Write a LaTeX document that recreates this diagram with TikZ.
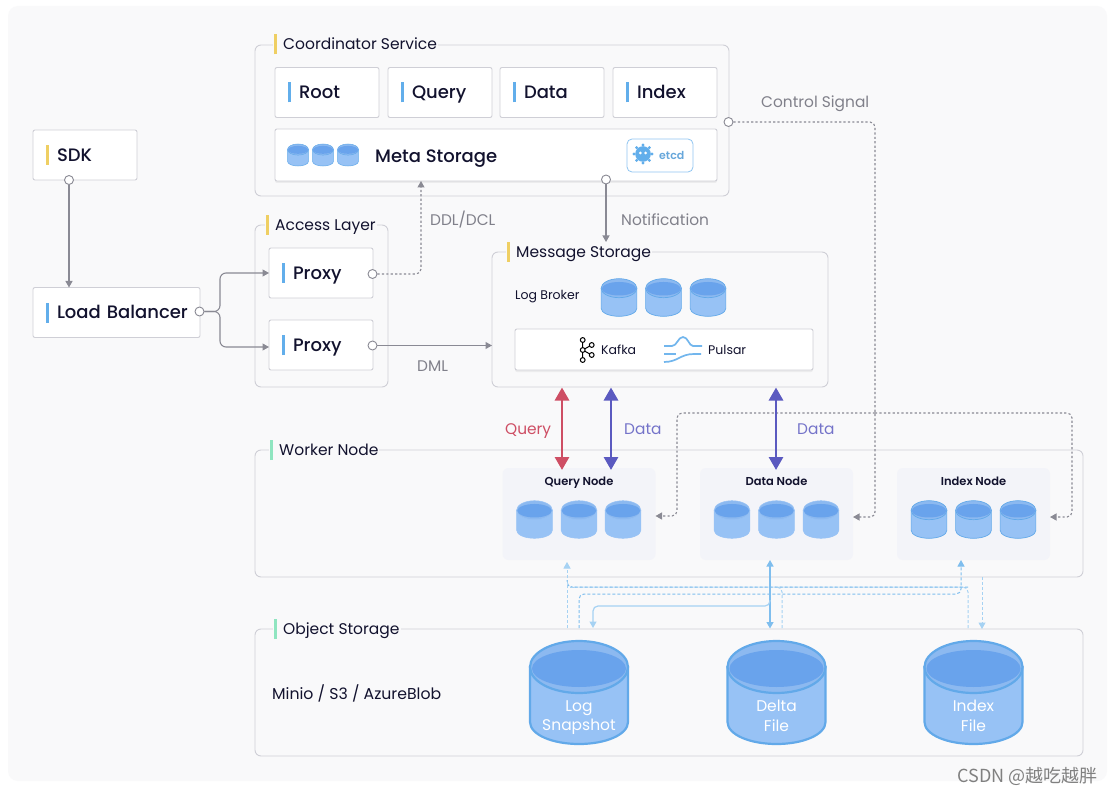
\documentclass[tikz,border=0pt]{standalone}
\usepackage{fontspec}
\usepackage{xcolor}
\usetikzlibrary{arrows.meta,shadows}
\setmainfont{Poppins}[BoldFont=Poppins SemiBold]
\newfontfamily\medfont{Poppins Medium}
\newfontfamily\cjkfont{Noto Sans CJK SC}
\definecolor{pagebg}{HTML}{F9F9FA}
\definecolor{boxline}{HTML}{CFCFD6}
\definecolor{ink}{HTML}{12122E}
\definecolor{greyink}{HTML}{80808A}
\definecolor{linkgrey}{HTML}{8A8A94}
\definecolor{tagyellow}{HTML}{EFCF63}
\definecolor{tagblue}{HTML}{62AEEB}
\definecolor{taggreen}{HTML}{8FE5C0}
\definecolor{querycol}{HTML}{CE4E64}
\definecolor{datacol}{HTML}{5B5AC0}
\definecolor{nodefill}{HTML}{F3F4F9}
\definecolor{dbline}{HTML}{62A9E9}
\definecolor{dbbody}{HTML}{97C2F5}
\definecolor{dbband}{HTML}{8CB9F0}
\definecolor{dbtop}{HTML}{69A3EC}
\definecolor{lightlink}{HTML}{A6D2F3}
\definecolor{midlink}{HTML}{7FBEEE}
\newcommand{\tagbar}[1]{\textcolor{#1}{\rule[-3.5pt]{3pt}{20pt}}\hspace{8pt}}
\newcommand{\titlebar}[1]{\textcolor{#1}{\rule[-4.5pt]{3pt}{20pt}}\hspace{6pt}}
\newcommand{\fsz}[1]{\fontsize{#1pt}{#1pt}\selectfont}
\tikzset{
  dbcyl/.pic={
    \path[fill=dbbody,draw=#1] (-49,-25.5) -- (-49,29.5)
      .. controls (-49,42) and (-27,51.5) .. (0,51.5)
      .. controls (27,51.5) and (49,42) .. (49,29.5) -- (49,-25.5) -- cycle;
    \path[fill=dbband,draw=#1] (0,-25.5) ellipse [x radius=49,y radius=26];
    \path[fill=dbtop] (0,-24) ellipse [x radius=47,y radius=18.5];
  },
  kafkaicon/.pic={
    \draw[black,line width=1pt] (0,-10) -- (0,10) (0,0) -- (9,-5) (0,0) -- (9,5);
    \foreach \p in {(0,-10),(0,0),(0,10),(9,-5),(9,5)}
      \draw[black,fill=white,line width=1pt] \p circle (2.4);
  },
  pulsaricon/.pic={
    \draw[tagblue!90,line width=1.7pt] (0,0) -- (8,0) .. controls (13,0) and (14,-9) .. (19,-9)
      .. controls (24,-9) and (25,0) .. (29,0) -- (38,0);
    \draw[tagblue!90,line width=1.7pt] (0,8) -- (12,8);
    \draw[tagblue!90,line width=1.7pt] (0,16) .. controls (14,16) and (16,8) .. (30,8) -- (37,8);
  },
  etcdicon/.pic={
    \foreach \a in {0,45,...,315}
      \fill[tagblue] (\a:9) circle (1.6);
    \fill[tagblue] (0,0) circle (7.8);
    \fill[white] (-2.6,-1) circle (1.5) (2.6,-1) circle (1.5);
  }
}
\begin{document}
\begin{tikzpicture}[x=1pt,y=-1pt]
  \tikzstyle{groupn}=[draw=boxline,fill=pagebg,rounded corners=6pt,line width=.9pt,outer sep=0pt]
  \tikzstyle{boxn}=[draw=boxline,fill=white,rounded corners=2pt,line width=.9pt,outer sep=0pt,
    inner xsep=13pt,inner ysep=0pt,minimum height=50pt,align=left,text=ink,font=\fsz{18}\medfont,
    text height=16.5pt,text depth=3.5pt]
  \tikzstyle{shadown}=[drop shadow={opacity=.10,shadow xshift=0pt,shadow yshift=-2pt}]
  \tikzstyle{titlen}=[fill=pagebg,inner sep=1pt,anchor=west,text=ink,font=\fsz{15.5}]
  \tikzstyle{workern}=[fill=nodefill,rounded corners=6pt,minimum width=153pt,minimum height=92pt,outer sep=0pt]
  \tikzstyle{dotn}=[circle,draw=linkgrey,fill=white,line width=.9pt,inner sep=0pt,minimum size=9pt]
  \tikzstyle{textn}=[anchor=west,inner sep=0pt,text=ink]
  \tikzstyle{greyn}=[anchor=west,inner sep=0pt,text=greyink,font=\fsz{15.4}]
  \tikzstyle{link}=[draw=linkgrey,line width=1.1pt,-{Triangle[length=6.5pt,width=7pt]}]
  \tikzstyle{dotlink}=[link,dash pattern=on 2.2pt off 2.2pt,rounded corners=5pt]
  \tikzstyle{thick2}=[line width=2.8pt,{Triangle[length=13pt,width=14pt]}-{Triangle[length=13pt,width=14pt]}]
  \tikzstyle{lightn}=[draw=lightlink,line width=1pt,rounded corners=5pt,dash pattern=on 3pt off 2pt]
  \tikzstyle{lighttip}=[-{Triangle[length=6.5pt,width=7pt]}]
  \useasboundingbox (0,0) rectangle (1108,794);
  \fill[white] (0,0) rectangle (1108,794);
  \fill[pagebg,rounded corners=10pt] (8,6) rectangle (1107,781);

  % groups
  \node(coordg)[groupn,minimum width=474pt,minimum height=151pt] at (492,120.5){};
  \node(accessg)[groupn,minimum width=133pt,minimum height=162pt] at (321.5,306){};
  \node(msgg)[groupn,minimum width=336pt,minimum height=135pt] at (660,319.5){};
  \node(workerg)[groupn,minimum width=828pt,minimum height=127pt] at (669,513.5){};
  \node(objectg)[groupn,minimum width=828pt,minimum height=127pt] at (669,692.5){};
  \node(coordt)[titlen] at (273,44.5){\titlebar{tagyellow}Coordinator Service};
  \node(accesst)[titlen] at (265,225){\titlebar{tagyellow}Access Layer};
  \node(msgt)[titlen] at (506,252){\titlebar{tagyellow}Message Storage};
  \node(workert)[titlen] at (269,450){\titlebar{taggreen}Worker Node};
  \node(objectt)[titlen] at (273,629){\titlebar{taggreen}Object Storage};

  % boxes
  \node(sdk)[boxn,text width=78pt] at (85,155){\tagbar{tagyellow}SDK};
  \node(lb)[boxn,text width=141pt] at (116.5,312.5){\mbox{\tagbar{tagblue}Load Balancer}};
  \node(root)[boxn,text width=78pt] at (327,92.5){\tagbar{tagblue}Root};
  \node(query)[boxn,text width=78pt] at (440,92.5){\tagbar{tagblue}Query};
  \node(data)[boxn,text width=78pt] at (552,92.5){\tagbar{tagblue}Data};
  \node(index)[boxn,text width=78pt] at (665,92.5){\tagbar{tagblue}Index};
  \node(proxya)[boxn,text width=78pt] at (321,273){\tagbar{tagblue}Proxy};
  \node(proxyb)[boxn,text width=78pt] at (321,345){\tagbar{tagblue}Proxy};
  \node(meta)[boxn,shadown,minimum width=442pt,minimum height=52pt,inner xsep=0pt] at (496,155){};
  \node(kafkab)[boxn,shadown,minimum width=298pt,minimum height=41pt,inner xsep=0pt] at (664,349.5){};

  % meta storage
  \foreach \x in {298,323,348}
    \pic[scale=.214,line width=.5pt] at (\x,155){dbcyl=dbline};
  \node(metat)[textn,font=\fsz{18}\medfont] at (375,158.5){Meta Storage};
  \node(etcdb)[draw=tagblue!70,fill=white,rounded corners=5pt,line width=.8pt,minimum width=66pt,minimum height=33pt,outer sep=0pt] at (660,155.5){};
  \pic at (643,154){etcdicon};
  \node(etcdt)[textn,font=\fsz{11}\bfseries,text=tagblue!85!gray] at (659,155){etcd};

  % message storage
  \node(brokert)[textn,font=\fsz{12.5}] at (515,297){Log Broker};
  \foreach \x in {619,663.5,708}
    \pic[scale=.365,line width=.7pt] at (\x,297.5){dbcyl=dbline};
  \pic at (582.7,350){kafkaicon};
  \node(kafkat)[textn,font=\fsz{12.5}] at (601,350){Kafka};
  \pic at (664,346){pulsaricon};
  \node(pulsart)[textn,font=\fsz{12.5}] at (708,350){Pulsar};

  % worker nodes
  \node(qnode)[workern] at (579,514){};
  \node(dnode)[workern] at (776.5,514){};
  \node(inode)[workern] at (973.5,514){};
  \node(qnodet)[inner sep=0pt,text=ink,font=\fsz{11.5}\bfseries] at (579,483){Query Node};
  \node(dnodet)[inner sep=0pt,text=ink,font=\fsz{11.5}\bfseries] at (776.5,481){Data Node};
  \node(inodet)[inner sep=0pt,text=ink,font=\fsz{11.5}\bfseries] at (973.5,481){Index Node};
  \foreach \x in {534.5,579,623}
    \pic[scale=.365,line width=.5pt] at (\x,519.5){dbcyl=dbbody};
  \foreach \x in {732,776.5,821}
    \pic[scale=.365,line width=.5pt] at (\x,519.5){dbcyl=dbbody};
  \foreach \x in {929,973.5,1018}
    \pic[scale=.365,line width=.7pt] at (\x,519.5){dbcyl=dbline};

  % object storage
  \node(miniot)[textn,font=\fsz{15.7}] at (272,693.5){Minio / S3 / AzureBlob};
  \foreach \x in {579,776.5,973.5}
    \pic[line width=2.2pt] at (\x,692.5){dbcyl=dbline};
  \node(logf)[align=center,inner sep=0pt,text=white,font=\fsz{15.5}\linespread{1.25}\selectfont] at (579,717.5){Log\\Snapshot};
  \node(deltaf)[align=center,inner sep=0pt,text=white,font=\fsz{15.5}\linespread{1.25}\selectfont] at (776.5,716){Delta\\File};
  \node(indexf)[align=center,inner sep=0pt,text=white,font=\fsz{15.5}\linespread{1.25}\selectfont] at (973.5,716){Index\\File};

  % grey links
  \node(sdkd)[dotn] at (69,180){};
  \node(lbd)[dotn] at (199.5,311.5){};
  \node(proxyad)[dotn] at (372.5,274){};
  \node(proxybd)[dotn] at (372.5,345.5){};
  \node(metad)[dotn] at (606,179.5){};
  \node(ctrld)[dotn] at (728.5,122){};
  \coordinate(lbfork) at (220,311.5);
  \coordinate(ddltip) at (421,181);
  \coordinate(ctrlfork) at (875,413);
  \draw[link] (sdkd) -- (sdkd |- lb.north);
  \draw[link,rounded corners=6pt] (lbd) -- (lbfork) |- (proxya.west);
  \draw[link,rounded corners=6pt] (lbd) -- (lbfork) |- ([yshift=-2pt]proxyb.west);
  \draw[dotlink] (proxyad) -| (ddltip);
  \draw[link] (proxybd) -- (proxybd -| msgg.west);
  \draw[link] (metad) -- (606,242);
  \draw[dotlink] (ctrld) -| (875,517) -- (dnode.east |- 0,517);
  \draw[dotlink] (ctrlfork) -| (677,516) -- (qnode.east |- 0,516);
  \draw[dotlink] (ctrlfork) -| (1072,517) -- (inode.east |- 0,517);
  \node(ddlt)[greyn] at (430,219.5){DDL/DCL};
  \node(notift)[greyn] at (621,219.5){Notification};
  \node(ctrlt)[greyn] at (761,104){Control Signal};
  \node(dmlt)[greyn] at (417,366){DML};

  % query and data links
  \draw[thick2,querycol] (562,387.5) -- (562,470);
  \draw[thick2,datacol] (611,387.5) -- (611,470);
  \draw[thick2,datacol] (776,387.5) -- (776,470);
  \node(queryt)[greyn,text=querycol] at (505,431){Query};
  \node(datat)[greyn,text=datacol!85!white] at (624,429){Data};
  \node(datatb)[greyn,text=datacol!85!white] at (797,429){Data};

  % light links
  \draw[lightn,lighttip] (567,628) -- (567,562);
  \draw[lightn] (968,628) |- (574,587);
  \draw[lightn,draw=midlink] (968,587) -- (574,587) -- (567,587) -- (567,580);
  \draw[lightn] (782,628) |- (775,587);
  \draw[lightn,draw=midlink,lighttip] (579,628) |- (961,594) -- (961,560);
  \draw[lightn,lighttip] (982,577) -- (982,629);
  \draw[draw=midlink,line width=1.2pt,{Triangle[length=6.5pt,width=7pt]}-{Triangle[length=6.5pt,width=7pt]}] (770,560) -- (770,628.5);
  \draw[draw=lightlink,line width=1.2pt,rounded corners=5pt,lighttip] (770,600) |- (593,606) -- (593,628);

  \node(mark)[anchor=east,inner sep=0pt,text=gray,font=\fsz{18}\cjkfont] at (1098,776){CSDN @越吃越胖};
\end{tikzpicture}
\end{document}
